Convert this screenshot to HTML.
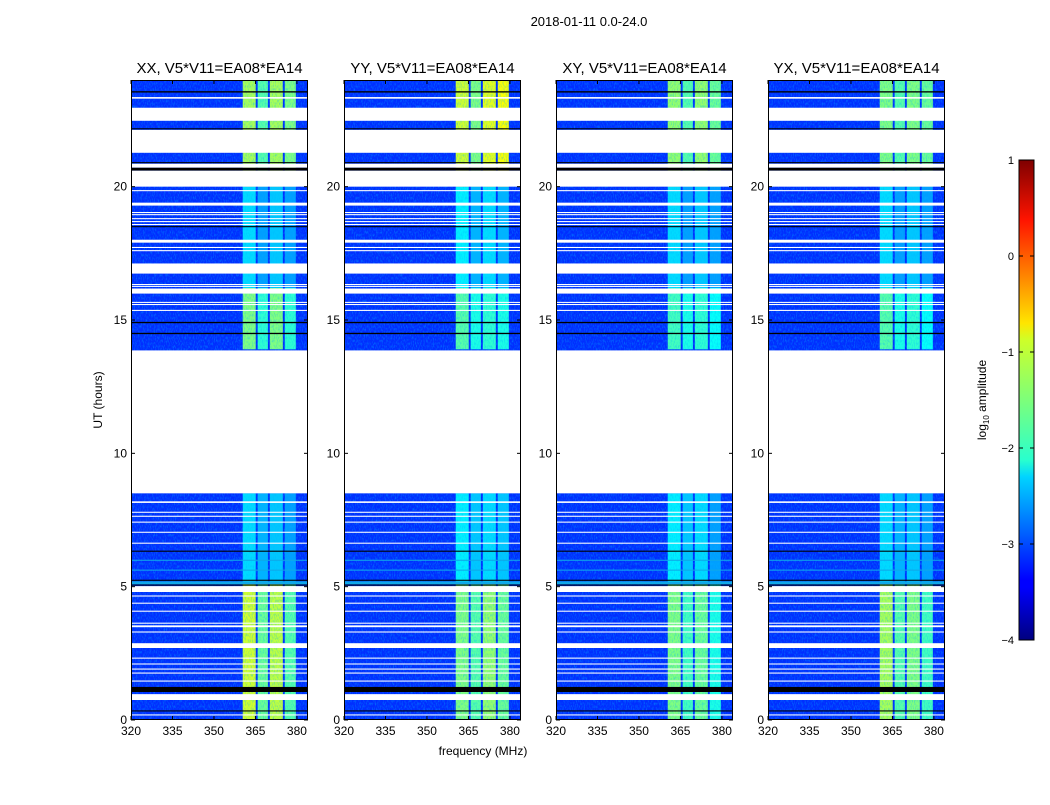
<!DOCTYPE html>
<html><head><meta charset="utf-8"><style>
html,body{margin:0;padding:0;background:#fff;}
svg text{font-family:"Liberation Sans",sans-serif;fill:#000;}
</style></head><body>
<svg id="fig" width="1050" height="800" xmlns="http://www.w3.org/2000/svg">
<defs>
<filter id="noise" x="0" y="0" width="100%" height="100%">
<feTurbulence type="fractalNoise" baseFrequency="0.9 0.35" numOctaves="2" seed="3"/>
<feColorMatrix type="matrix" values="0 0 0 0 0  0 0 0 0 0.45  0 0 0 0 1  0 0 0 1.6 -0.7"/>
</filter>
<linearGradient id="jet" x1="0" y1="1" x2="0" y2="0">
<stop offset="0" stop-color="#00007f"/><stop offset="0.11" stop-color="#0000ff"/>
<stop offset="0.125" stop-color="#0000ff"/><stop offset="0.34" stop-color="#00d4ff"/>
<stop offset="0.375" stop-color="#29ffce"/><stop offset="0.5" stop-color="#7dff7a"/>
<stop offset="0.625" stop-color="#ceff29"/><stop offset="0.66" stop-color="#ffe500"/>
<stop offset="0.875" stop-color="#ff1400"/><stop offset="1" stop-color="#7f0000"/>
</linearGradient>
</defs>
<text x="589" y="26" font-size="13" text-anchor="middle">2018-01-11 0.0-24.0</text>
<text x="483" y="755" font-size="12" text-anchor="middle">frequency (MHz)</text>
<text transform="translate(102,400) rotate(-90)" font-size="12" text-anchor="middle">UT (hours)</text>
<g id="panels"></g>
<g id="cbar"></g>
</svg>
<script>
const panelTitles = ["XX, V5*V11=EA08*EA14","YY, V5*V11=EA08*EA14","XY, V5*V11=EA08*EA14","YX, V5*V11=EA08*EA14"];
const xTicks = [320,335,350,365,380];
const yTicks = [0,5,10,15,20];
const subbands = [[360.4,365.1],[365.8,369.5],[370.2,374.9],[375.6,379.6]];
const blockEdges = [[0,5.1],[5.1,8.5],[13.9,16.2],[16.2,20.0],[20.0,24]];
const backgroundAmp = -3.15;
const ampXX = [[-1.1,-1.6,-1.2,-1.7],[-2.3,-2.5,-2.4,-2.6],[-1.5,-1.9,-1.5,-1.9],[-2.3,-2.6,-2.4,-2.6],[-1.3,-1.7,-1.3,-1.5]];
const ampYY = [[-1.5,-1.7,-1.4,-1.6],[-2.2,-2.4,-2.3,-2.4],[-1.7,-2.0,-1.9,-2.0],[-2.2,-2.5,-2.3,-2.5],[-1.1,-1.5,-1.0,-0.9]];
const ampXY = [[-1.5,-1.8,-1.6,-2.0],[-2.2,-2.4,-2.3,-2.6],[-1.8,-2.0,-1.9,-2.1],[-2.3,-2.6,-2.4,-2.6],[-1.4,-1.7,-1.4,-1.6]];
const ampYX = [[-1.3,-1.7,-1.5,-1.8],[-2.3,-2.5,-2.4,-2.6],[-1.7,-2.0,-1.9,-2.1],[-2.3,-2.6,-2.4,-2.6],[-1.5,-1.7,-1.5,-1.6]];
const flagStart = [23.30,23.53,22.47,22.15,21.27,20.88,20.71,20.60,20.0,19.83,19.29,19.01,18.93,18.78,18.67,18.56,18.48,17.90,17.70,17.58,16.74,16.31,16.24,15.99,15.64,15.56,15.34,14.88,14.47,8.5,8.14,7.77,7.62,7.40,7.02,6.61,6.31,5.97,5.60,5.22,5.09,5.04,4.80,4.63,4.36,4.06,3.61,3.48,3.28,2.70,2.30,2.08,1.89,1.74,1.44,1.05,0.75,0.32,0.17];
const flagEnd   = [23.36,23.58,22.96,22.19,22.13,20.92,20.86,20.71,20.6,19.87,19.40,19.05,18.97,18.82,18.71,18.60,18.52,18.01,17.74,17.62,17.12,16.35,16.28,16.18,15.68,15.60,15.38,14.93,14.52,13.86,8.20,7.81,7.66,7.44,7.06,6.65,6.35,6.01,5.64,5.26,5.20,5.08,5.02,4.67,4.40,4.10,3.65,3.55,3.32,2.88,2.34,2.12,1.93,1.78,1.48,1.24,0.97,0.36,0.21];
const flagType  = ["w","k","w","k","w","k","w","k","w","w","w","w","w","w","w","w","k","w","w","w","w","w","w","w","w","w","w","k","k","w","w","w","w","w","w","w","k","c","c","k","c","k","w","w","w","w","w","w","w","w","w","w","w","w","w","k","w","k","w"];
const cbTicks = [1,0,-1,-2,-3,-4];
const amps = [ampXX,ampYY,ampXY,ampYX];
const panelLeft = [131,344,556,768];
const PW=177, PT=80, PB=720, XMIN=320, XMAX=384, YMIN=0, YMAX=24;
const NS="http://www.w3.org/2000/svg";
function jet(v){const t=Math.max(0,Math.min(1,(v+4)/5));
 const r=Math.max(0,Math.min(1,Math.min(4*t-1.5,-4*t+4.5)));
 const g=Math.max(0,Math.min(1,Math.min(4*t-0.5,-4*t+3.5)));
 const b=Math.max(0,Math.min(1,Math.min(4*t+0.5,-4*t+2.5)));
 return `rgb(${Math.round(r*255)},${Math.round(g*255)},${Math.round(b*255)})`;}
function el(tag,attrs,parent){const e=document.createElementNS(NS,tag);for(const k in attrs)e.setAttribute(k,attrs[k]);parent.appendChild(e);return e;}
const yS=h=>PB-(h-YMIN)/(YMAX-YMIN)*(PB-PT);
const panels=document.getElementById('panels');
for(let p=0;p<4;p++){
 const L=panelLeft[p];
 const xS=f=>L+(f-XMIN)/(XMAX-XMIN)*PW;
 const g=el('g',{},panels);
 
 
 const bg=el('rect',{x:L,y:PT,width:PW,height:PB-PT,fill:jet(backgroundAmp)},g);
 
 
 for(let b=0;b<blockEdges.length;b++){for(let s=0;s<subbands.length;s++){
  const r=el('rect',{x:xS(subbands[s][0]),y:yS(blockEdges[b][1]),width:xS(subbands[s][1])-xS(subbands[s][0]),height:yS(blockEdges[b][0])-yS(blockEdges[b][1]),fill:jet(amps[p][b][s])},g);
  
  
 }}
 const nz=el('rect',{x:L,y:PT,width:PW,height:PB-PT,filter:'url(#noise)',opacity:0.7},g);
 
 
 for(let i=0;i<flagStart.length;i++){
  const c=flagType[i]==='w'?'#ffffff':flagType[i]==='k'?'#000000':'#10a8e8';
  const r=el('rect',{x:L,y:yS(flagEnd[i]),width:PW,height:Math.max(1,yS(flagStart[i])-yS(flagEnd[i])),fill:c},g);
  
  
 }
 const fr=el('rect',{x:L+0.5,y:PT+0.5,width:PW-1,height:PB-PT-1,fill:'none',stroke:'#000','stroke-width':1},g);
 
 
 const t=el('text',{x:L+PW/2,y:73,'font-size':15,'text-anchor':'middle'},g);t.textContent=panelTitles[p];
 
 
 for(const xv of xTicks){const x=xS(xv);
  el('line',{x1:x,x2:x,y1:PB,y2:PB-4,stroke:'#000'},g);el('line',{x1:x,x2:x,y1:PT,y2:PT+4,stroke:'#000'},g);
  const tx=el('text',{x:x,y:PB+15,'font-size':12,'text-anchor':'middle'},g);tx.textContent=xv;
  
  }
 for(const yv of yTicks){const y=yS(yv);
  el('line',{x1:L,x2:L+4,y1:y,y2:y,stroke:'#000'},g);el('line',{x1:L+PW,x2:L+PW-4,y1:y,y2:y,stroke:'#000'},g);
  const ty=el('text',{x:L-4,y:y+4,'font-size':12,'text-anchor':'end'},g);ty.textContent=yv;
  
  }
}
const cb=document.getElementById('cbar');
const CX=1019,CW=15,CT=160,CB=640;
const cr=el('rect',{x:CX,y:CT,width:CW,height:CB-CT,fill:'url(#jet)',stroke:'#000','stroke-width':1},cb);


for(const v of cbTicks){const y=CB-(v+4)/5*(CB-CT);
 el('line',{x1:CX,x2:CX+4,y1:y,y2:y,stroke:'#000'},cb);el('line',{x1:CX+CW,x2:CX+CW-4,y1:y,y2:y,stroke:'#000'},cb);
 const t=el('text',{x:1014,y:y+4,'font-size':11,'text-anchor':'end'},cb);t.textContent=v<0?'\u2212'+(-v):String(v);
 
 }
const cl=el('text',{transform:'translate(986,400) rotate(-90)','font-size':12,'text-anchor':'middle'},cb);
cl.innerHTML='log<tspan font-size="8" dy="3">10</tspan><tspan dy="-3"> amplitude</tspan>';


</script>
</body></html>
